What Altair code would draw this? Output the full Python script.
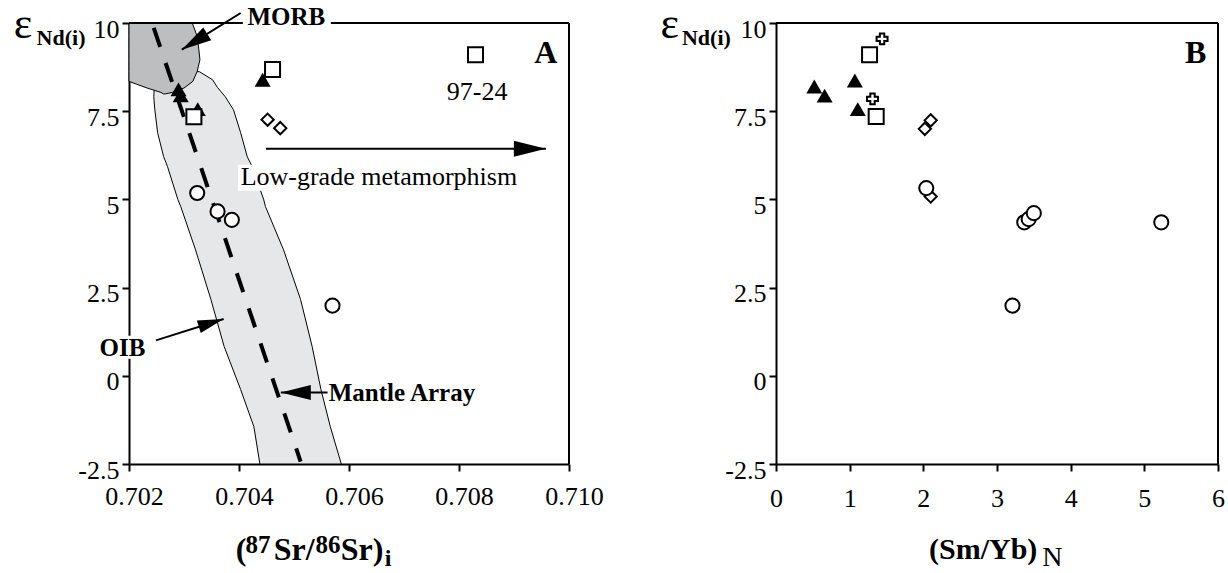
import altair as alt
import pandas as pd

FONT = "Liberation Serif"

# ---------------- axis ticks ----------------
xa_ticks = [0.702, 0.704, 0.706, 0.708, 0.710]
xb_ticks = [0, 1, 2, 3, 4, 5, 6]
y_ticks = [-2.5, 0, 2.5, 5, 7.5, 10]

# ---------------- panel A data: (87Sr/86Sr)i vs eNd(i) ----------------
a_circle_x = [0.70324, 0.70361, 0.70387, 0.70570]
a_circle_y = [5.18, 4.66, 4.42, 1.99]
a_square_x = [0.70318, 0.70461, 0.70830]
a_square_y = [7.34, 8.68, 9.10]
a_tri_x = [0.70290, 0.70294, 0.70325, 0.70443]
a_tri_y = [8.12, 7.95, 7.56, 8.39]
a_diam_x = [0.70452, 0.70475]
a_diam_y = [7.26, 7.02]

# ---------------- panel B data: (Sm/Yb)N vs eNd(i) ----------------
b_tri_x = [0.52, 0.66, 1.07, 1.11]
b_tri_y = [8.20, 7.94, 8.37, 7.56]
b_square_x = [1.27, 1.36]
b_square_y = [9.10, 7.35]
b_cross_x = [1.44, 1.31]
b_cross_y = [9.55, 7.85]
b_diam_x = [2.10, 2.02, 2.10]
b_diam_y = [7.24, 7.00, 5.08]
b_circle_x = [2.04, 3.37, 3.43, 3.50, 5.23, 3.21]
b_circle_y = [5.32, 4.35, 4.44, 4.61, 4.35, 1.99]

# ---------------- reference fields (panel A) ----------------
band_y = [8.62, 8.39, 8.17, 7.91, 7.54, 6.89, 6.21, 5.93, 4.99, 4.80, 3.57, 2.16, 0.83, -0.39, -1.44, -2.5]
band_xl = [0.70318, 0.70260, 0.70246, 0.70245, 0.70247, 0.70252, 0.70263, 0.70270, 0.70289, 0.70294,
           0.70321, 0.70349, 0.70373, 0.70403, 0.70427, 0.70438]
band_xr = [0.70328, 0.70352, 0.70361, 0.70375, 0.70390, 0.70403, 0.70415, 0.70424, 0.70445, 0.70448,
           0.70481, 0.70512, 0.70533, 0.70549, 0.70566, 0.70586]

morb_y = [10.0, 9.62, 9.24, 8.96, 8.63, 8.345, 8.157, 8.033, 7.99]
morb_xl = [0.702, 0.702, 0.702, 0.702, 0.702, 0.702, 0.70233, 0.70258, 0.70263]
morb_xr = [0.70315, 0.70324, 0.70327, 0.70329, 0.70324, 0.70316, 0.70300, 0.70279, 0.70266]

mantle_x = [0.70245, 0.70512]
mantle_y = [9.86, -2.43]

# arrows (panel A)
arr_tail_x = [0.70403, 0.70249, 0.70561, 0.70449]
arr_tail_y = [10.283, 1.004, -0.470, 6.437]
arr_tip_x = [0.70296, 0.70372, 0.70476, 0.70958]
arr_tip_y = [9.243, 1.610, -0.470, 6.437]
arr_angle = [238, 72.5, 270, 90]
arr_size = [900, 676, 900, 1024]

# ---------------- helpers ----------------
common_axis = dict(title=None, grid=False, domainColor="black", domainWidth=2,
                   tickColor="black", tickWidth=2, tickSize=7, labelFont=FONT,
                   labelFontSize=26, labelColor="black", zindex=0, labelOverlap=False)
y_axis = alt.Axis(values=y_ticks, labelExpr="datum.value + ''", labelPadding=3,
                  labelOffset=6, **common_axis)
xa_axis = alt.Axis(values=xa_ticks, format=".3f", labelPadding=12, labelOffset=5,
                   labelFlush=False, **common_axis)
xb_axis = alt.Axis(values=xb_ticks, format="d", labelPadding=14, labelFlush=False,
                   **common_axis)

Y_DOM = [-2.5, 10]


def xenc(dom, axis):
    sc = alt.Scale(domain=dom, nice=False, zero=False)
    return lambda f: alt.X(f, type="quantitative", scale=sc, axis=axis, stack=None)


def yenc():
    sc = alt.Scale(domain=Y_DOM, nice=False, zero=False)
    return lambda f: alt.Y(f, type="quantitative", scale=sc, axis=y_axis, stack=None)


XA = xenc([0.702, 0.710], xa_axis)
XB = xenc([0, 6], xb_axis)
Y = yenc()


def texts(X, xs, ys, labels, size, weight="normal", align="left"):
    df = pd.DataFrame({"x": xs, "y": ys, "t": labels})
    return alt.Chart(df).mark_text(font=FONT, fontSize=size, fontWeight=weight, align=align,
                                   baseline="alphabetic", color="black").encode(
        x=X("x"), y=Y("y"), text="t:N")


def points(X, xs, ys, shape, size, fill="white"):
    df = pd.DataFrame({"x": xs, "y": ys})
    if fill == "black":
        mk = alt.Chart(df).mark_point(shape=shape, size=size, filled=True, fill="black",
                                      strokeWidth=0, opacity=1)
    else:
        mk = alt.Chart(df).mark_point(shape=shape, size=size, filled=True, fill="white",
                                      stroke="black", strokeWidth=2, opacity=1)
    return mk.encode(x=X("x"), y=Y("y"))


def rules(X, x1, x2, y1, y2, width=2):
    df = pd.DataFrame({"x": x1, "x2": x2, "y": y1, "y2": y2})
    return alt.Chart(df).mark_rule(color="black", strokeWidth=width).encode(
        x=X("x"), x2="x2", y=Y("y"), y2="y2")


def white_box(X, x1, x2, y1, y2):
    df = pd.DataFrame({"x": x1, "x2": x2, "y": y1, "y2": y2})
    return alt.Chart(df).mark_rect(color="white").encode(x=X("x"), x2="x2", y=Y("y"), y2="y2")


# ---------------- panel A ----------------
band = alt.Chart(pd.DataFrame({"y": band_y, "xl": band_xl, "xr": band_xr})).mark_area(
    orient="horizontal", fill="#e6e7e8", stroke="black", strokeWidth=1, opacity=1).encode(
    y=Y("y"), x=XA("xl"), x2="xr")
morb = alt.Chart(pd.DataFrame({"y": morb_y, "xl": morb_xl, "xr": morb_xr})).mark_area(
    orient="horizontal", fill="#bcbec0", stroke="black", strokeWidth=1, opacity=1).encode(
    y=Y("y"), x=XA("xl"), x2="xr")
mantle = alt.Chart(pd.DataFrame({"x": mantle_x, "y": mantle_y})).mark_line(
    color="black", strokeWidth=4, strokeDash=[20, 17]).encode(x=XA("x"), y=Y("y"))

frame_a = rules(XA, [0.702, 0.70567, 0.710], [0.70407, 0.710, 0.710], [10, 10, -2.5], [10, 10, 10])
boxes_a = white_box(XA, [0.70143, 0.70398], [0.70232, 0.70912], [1.137, 5.984], [0.485, 5.247])
shafts = rules(XA, arr_tail_x, arr_tip_x, arr_tail_y, arr_tip_y)
heads = alt.Chart(pd.DataFrame({"x": arr_tip_x, "y": arr_tip_y, "a": arr_angle, "s": arr_size})).mark_point(
    shape="M0,0L0.5,2L-0.5,2Z", filled=True, fill="black", strokeWidth=0, opacity=1).encode(
    x=XA("x"), y=Y("y"), angle=alt.Angle("a:Q", scale=None), size=alt.Size("s:Q", scale=None))

txt_a = [
    texts(XA, [0.70486, 0.70188], [9.952, 0.550], ["MORB", "OIB"], 25, "bold", "center"),
    texts(XA, [0.70563], [-0.726], ["Mantle Array"], 25, "bold", "left"),
    texts(XA, [0.70833], [7.826], ["97-24"], 26, "normal", "center"),
    texts(XA, [0.70403], [5.417], ["Low-grade metamorphism"], 26, "normal", "left"),
    texts(XA, [0.70979], [8.866], ["A"], 32, "bold", "right"),
    texts(XA, [0.699904], [9.575], ["ε"], 44, "normal", "left"),
    texts(XA, [0.700320], [9.385], ["Nd(i)"], 22, "bold", "left"),
    texts(XA, [0.70394, 0.70463, 0.70585], [-5.212, -5.212, -5.212], ["(", "Sr/", "Sr)"], 32, "bold", "left"),
    texts(XA, [0.70412, 0.70539], [-5.014, -5.014], ["87", "86"], 25, "bold", "left"),
    texts(XA, [0.70665], [-5.40], ["i"], 24, "bold", "left"),
]

pts_a = [
    points(XA, a_tri_x, a_tri_y, "triangle-up", 256, "black"),
    points(XA, a_square_x, a_square_y, "square", 225),
    points(XA, a_diam_x, a_diam_y, "diamond", 150),
    points(XA, a_circle_x, a_circle_y, "circle", 200),
]

panel_a = alt.layer(band, morb, mantle, frame_a, boxes_a, shafts, heads, *txt_a, *pts_a).properties(
    width=440, height=441)

# ---------------- panel B ----------------
frame_b = rules(XB, [0, 6], [6, 6], [10, -2.5], [10, 10])
txt_b = [
    texts(XB, [5.842], [8.866], ["B"], 32, "bold", "right"),
    texts(XB, [-1.5666], [9.575], ["ε"], 44, "normal", "left"),
    texts(XB, [-1.2765], [9.385], ["Nd(i)"], 22, "bold", "left"),
    texts(XB, [2.8125], [-5.184], ["(Sm/Yb)"], 30, "bold", "center"),
    texts(XB, [3.614], [-5.38], ["N"], 28, "normal", "left"),
]
pts_b = [
    points(XB, b_tri_x, b_tri_y, "triangle-up", 256, "black"),
    points(XB, b_square_x, b_square_y, "square", 225),
    points(XB, b_cross_x, b_cross_y, "cross", 120),
    points(XB, b_diam_x, b_diam_y, "diamond", 150),
    points(XB, b_circle_x, b_circle_y, "circle", 200),
]
panel_b = alt.layer(frame_b, *txt_b, *pts_b).properties(width=442, height=441)

chart = alt.hconcat(panel_a, panel_b, spacing=207, bounds="flush").properties(
    padding={"left": 13, "top": 2, "right": 0, "bottom": 0},
    background="white",
).configure_view(stroke=None)

chart.save("out.html", embed_options={"renderer": "svg", "actions": False})
